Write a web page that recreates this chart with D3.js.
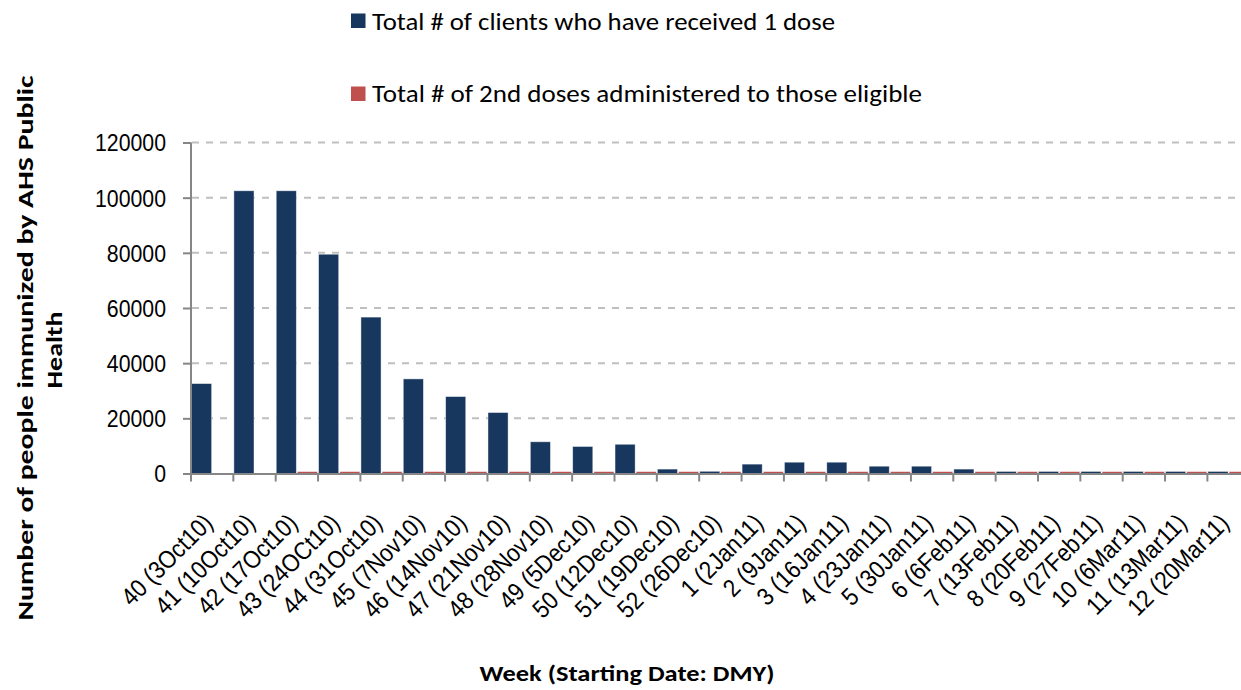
<!DOCTYPE html>
<html><head><meta charset="utf-8">
<script src="https://cdn.jsdelivr.net/npm/d3@7"></script>
<style>
body{margin:0;background:#fff;}
svg{display:block;font-family:Carlito,'Liberation Sans Narrow','Liberation Sans',Arial,sans-serif;}
</style>
</head><body>
<svg id="chart" width="1241" height="690"></svg>
<script>
// ---- data ----
const weeks = ["40 (3Oct10)","41 (10Oct10)","42 (17Oct10)","43 (24OCt10)","44 (31Oct10)","45 (7Nov10)","46 (14Nov10)","47 (21Nov10)","48 (28Nov10)","49 (5Dec10)","50 (12Dec10)","51 (19Dec10)","52 (26Dec10)","1 (2Jan11)","2 (9Jan11)","3 (16Jan11)","4 (23Jan11)","5 (30Jan11)","6 (6Feb11)","7 (13Feb11)","8 (20Feb11)","9 (27Feb11)","10 (6Mar11)","11 (13Mar11)","12 (20Mar11)"];
const firstDose = [32600,102500,102500,79500,56700,34300,27900,22100,11500,9800,10600,1600,800,3400,4100,4100,2650,2650,1600,750,750,750,750,750,750];
const secondDose = [0,0,700,700,700,700,700,700,700,700,700,700,700,700,700,700,700,700,700,700,700,700,700,700,700];
const seriesNames = ["Total # of clients who have received 1 dose","Total # of 2nd doses administered to those eligible"];
const seriesColors = ["#17375E","#C0504D"];
const yTicks = [0,20000,40000,60000,80000,100000,120000];
const yTitle = ["Number of people immunized by AHS Public","Health"];
const xTitle = "Week (Starting Date: DMY)";

// ---- layout ----
const svg = d3.select("#chart");
const left = 191, step = 42.35, right = left + weeks.length * step;
const y0 = 473.5, yTop = 142.5;

const x0 = d3.scaleBand().domain(weeks).range([left, right]).paddingInner(0).paddingOuter(0);
const x1 = d3.scaleBand().domain([0,1]).range([0, x0.bandwidth()]).paddingInner(0.05).paddingOuter(0.025);
const y = d3.scaleLinear().domain([0,120000]).range([y0, yTop]);

svg.append("defs").append("clipPath").attr("id","pc")
  .append("rect").attr("x",0).attr("y",0).attr("width",1241).attr("height",690);

function fitFactor(sel, target){
  const n = sel.node().getComputedTextLength();
  return target / n;
}
function applyFactor(sel, k){
  sel.each(function(){
    const n = this.getComputedTextLength();
    d3.select(this).attr("textLength", n*k).attr("lengthAdjust","spacingAndGlyphs");
  });
}

// gridlines
svg.append("g").selectAll("line").data(yTicks.filter(d=>d>0)).join("line")
  .attr("x1", left+1).attr("x2", 1241)
  .attr("y1", d=>y(d)).attr("y2", d=>y(d))
  .attr("stroke","#BFBFBF").attr("stroke-width",2).attr("stroke-dasharray","7,7");

// bars
const data = weeks.map((w,i)=>({w, v:[firstDose[i], secondDose[i]]}));
const gb = svg.append("g").attr("clip-path","url(#pc)");
gb.selectAll("g").data(data).join("g")
  .attr("transform", d=>`translate(${x0(d.w)},0)`)
  .selectAll("rect").data(d=>d.v.map((v,j)=>({v,j}))).join("rect")
  .attr("x", d=>x1(d.j)).attr("width", x1.bandwidth())
  .attr("y", d=>y(d.v)).attr("height", d=>y0 - y(d.v))
  .attr("fill", d=>seriesColors[d.j])
  .attr("stroke", d=>d.v>0 ? "rgba(255,255,255,0.55)" : "none").attr("stroke-width",0.8);

// y axis
const yAxis = svg.append("g").attr("transform",`translate(${left},0)`)
  .call(d3.axisLeft(y).tickValues(yTicks).tickSize(8).tickPadding(17).tickFormat(d3.format("d")));
yAxis.select(".domain").attr("stroke","#868686").attr("stroke-width",2)
  .attr("d", `M0,${yTop}V${y0+0.5}`);
yAxis.selectAll(".tick line").attr("stroke","#868686").attr("stroke-width",2);
yAxis.selectAll(".tick text").attr("fill","#000").style("font-size","24px").attr("dy","0.35em");
{
  const ref = yAxis.selectAll(".tick text").filter(d=>d===120000);
  applyFactor(yAxis.selectAll(".tick text"), fitFactor(ref, 71));
}

// x axis line and boundary ticks
const gx = svg.append("g");
gx.append("line").attr("x1", left).attr("x2", 1241).attr("y1", y0+0.5).attr("y2", y0+0.5)
  .attr("stroke","#868686").attr("stroke-width",2);
gx.selectAll("line.tk").data(d3.range(weeks.length+1)).join("line").attr("class","tk")
  .attr("x1", i=>left + i*x0.step()).attr("x2", i=>left + i*x0.step())
  .attr("y1", y0).attr("y2", y0+8)
  .attr("stroke","#868686").attr("stroke-width",2);

// x labels through a band axis (compressed horizontally with a scale transform)
const xAxis = svg.append("g").attr("transform",`translate(0,${y0})`)
  .call(d3.axisBottom(x0).tickSize(0).tickPadding(0));
xAxis.select(".domain").remove();
const xLabels = xAxis.selectAll(".tick text")
  .attr("y",0).attr("dy",0)
  .attr("text-anchor","end")
  .attr("fill","#000").style("font-size","25px");
{
  const ref = xAxis.selectAll(".tick text").filter(d=>d===weeks[0]);
  const k = fitFactor(ref, 117);
  xLabels.attr("transform",`translate(2,51) rotate(-45) scale(${k},1)`);
}

// axis titles
const xt = svg.append("text").attr("x", 627).attr("y", 681)
  .attr("text-anchor","middle").style("font-size","22px").style("font-weight","bold").text(xTitle);
applyFactor(xt, fitFactor(xt, 295));

const yt1 = svg.append("text").attr("transform","translate(33,348) rotate(-90)")
  .attr("text-anchor","middle").style("font-size","22px").style("font-weight","bold").text(yTitle[0]);
applyFactor(yt1, fitFactor(yt1, 545));
const yt2 = svg.append("text").attr("transform","translate(62,350) rotate(-90)")
  .attr("text-anchor","middle").style("font-size","22px").style("font-weight","bold").text(yTitle[1]);
applyFactor(yt2, fitFactor(yt2, 77));

// legend
const lg = svg.append("g");
const legendRows = [{y:13.5, ty:29.5},{y:86.5, ty:102}];
seriesNames.forEach((name,i)=>{
  lg.append("rect").attr("x",351).attr("y",legendRows[i].y).attr("width",14.5).attr("height",14.5)
    .attr("fill",seriesColors[i]);
  const t = lg.append("text").attr("x",372).attr("y",legendRows[i].ty)
    .style("font-size","25px").attr("fill","#000").text(name);
  applyFactor(t, fitFactor(t, i===0 ? 463 : 550));
});
</script>
</body></html>
